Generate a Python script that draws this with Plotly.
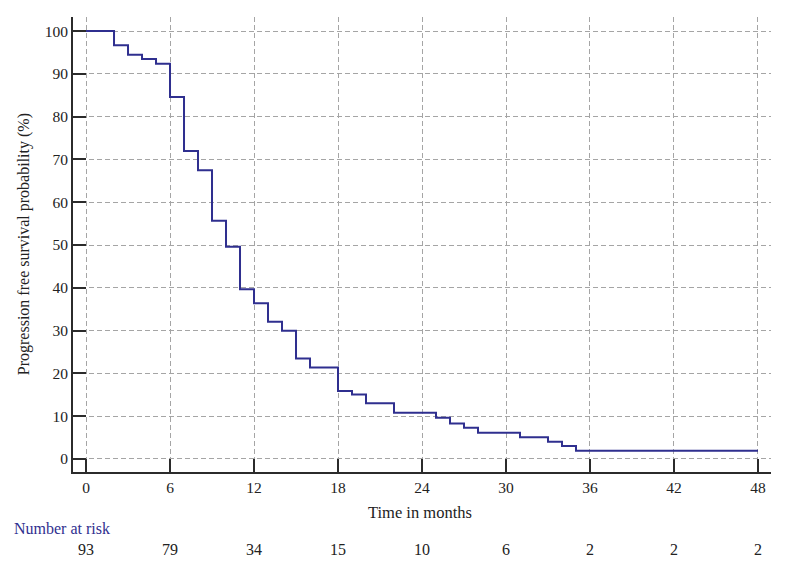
import plotly.graph_objects as go

# ── Data ──────────────────────────────────────────────────────────────────────
months = [0, 2, 3, 4, 5, 6, 7, 8, 9, 10, 11, 12, 13, 14, 15, 16, 18, 19, 20,
          22, 25, 26, 27, 28, 31, 33, 34, 35, 48]
pfs = [100, 96.7, 94.5, 93.5, 92.4, 84.6, 72.0, 67.5, 55.7, 49.6, 39.7, 36.4,
       32.1, 30.0, 23.5, 21.4, 15.9, 15.1, 13.0, 10.8, 9.65, 8.3, 7.3, 6.15,
       5.07, 4.05, 3.04, 1.9, 1.9]

risk_times = [0, 6, 12, 18, 24, 30, 36, 42, 48]
at_risk = [93, 79, 34, 15, 10, 6, 2, 2, 2]

y_ticks = list(range(0, 101, 10))

# ── Style ─────────────────────────────────────────────────────────────────────
NAVY = "#2f2f8f"
AXIS = "#2b2b2b"
GRID = "#a5a5a5"
TEXT = "#222222"
FONT = "Liberation Serif"

fig = go.Figure(go.Scatter(
    x=months, y=pfs,
    mode="lines",
    line=dict(color=NAVY, width=2, shape="hv"),
    showlegend=False,
    hoverinfo="skip",
))

# number-at-risk table under the axis
fig.add_annotation(text="Number at risk", xref="paper", yref="paper",
                   x=-0.0874, y=-0.125, xanchor="left", yanchor="middle",
                   showarrow=False, font=dict(family=FONT, size=16, color=NAVY))
for t, n in zip(risk_times, at_risk):
    fig.add_annotation(text=str(n), xref="x", yref="paper", x=t, y=-0.171,
                       xanchor="center", yanchor="middle", showarrow=False,
                       font=dict(family=FONT, size=16, color=TEXT))

fig.add_annotation(text="Time in months", xref="paper", yref="paper",
                   x=0.497, y=-0.090, xanchor="center", yanchor="middle",
                   showarrow=False, font=dict(family=FONT, size=16.5, color=TEXT))
fig.add_annotation(text="Progression free survival probability (%)",
                   xref="paper", yref="paper", x=-0.070, y=0.501,
                   xanchor="center", yanchor="middle", textangle=-90,
                   showarrow=False, font=dict(family=FONT, size=16, color=TEXT))

fig.update_layout(
    width=795, height=572,
    margin=dict(l=65, r=32, t=9, b=108),
    plot_bgcolor="white",
    paper_bgcolor="white",
    font=dict(family=FONT, size=15.5, color=TEXT),
    xaxis=dict(
        range=[-0.93, 48.93],
        tickvals=risk_times,
        ticks="inside", ticklen=13, tickwidth=2, tickcolor=AXIS,
        showline=True, linecolor=AXIS, linewidth=2,
        showgrid=True, gridcolor=GRID, gridwidth=1, griddash="5px,3px",
        zeroline=False,
    ),
    yaxis=dict(
        range=[-3.04, 103.3],
        tickvals=y_ticks,
        ticks="inside", ticklen=13, tickwidth=2, tickcolor=AXIS,
        showline=True, linecolor=AXIS, linewidth=2,
        showgrid=True, gridcolor=GRID, gridwidth=1, griddash="5px,3px",
        zeroline=False,
    ),
)

fig.write_html("out.html")
